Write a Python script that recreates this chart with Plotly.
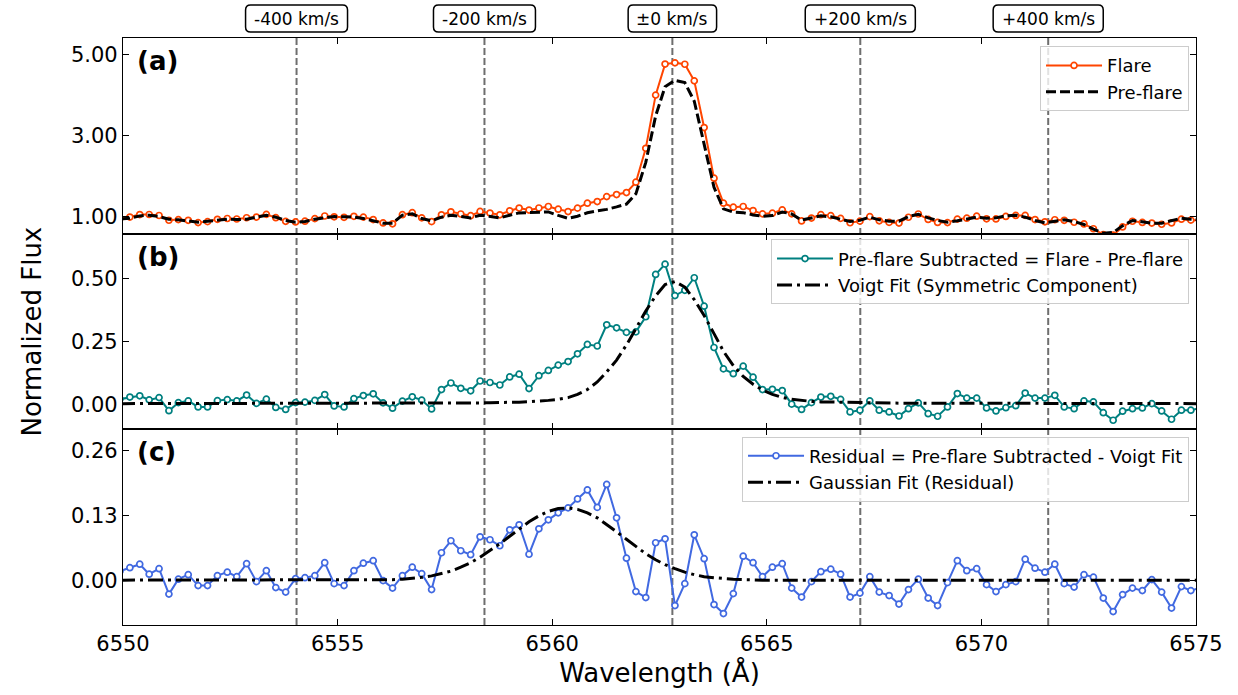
import plotly.graph_objects as go
from plotly.subplots import make_subplots

# ---------------- data ----------------
wavelength = [6549.93, 6550.16, 6550.39, 6550.61, 6550.84, 6551.07, 6551.29, 6551.52, 6551.75, 6551.97,
              6552.20, 6552.43, 6552.65, 6552.88, 6553.11, 6553.34, 6553.56, 6553.79, 6554.02, 6554.24,
              6554.47, 6554.70, 6554.92, 6555.15, 6555.38, 6555.60, 6555.83, 6556.06, 6556.28, 6556.51,
              6556.74, 6556.96, 6557.19, 6557.42, 6557.64, 6557.87, 6558.10, 6558.32, 6558.55, 6558.78,
              6559.01, 6559.23, 6559.46, 6559.69, 6559.91, 6560.14, 6560.37, 6560.59, 6560.82, 6561.05,
              6561.27, 6561.50, 6561.73, 6561.95, 6562.18, 6562.41, 6562.63, 6562.86, 6563.09, 6563.31,
              6563.54, 6563.77, 6563.99, 6564.22, 6564.45, 6564.68, 6564.90, 6565.13, 6565.36, 6565.58,
              6565.81, 6566.04, 6566.26, 6566.49, 6566.72, 6566.94, 6567.17, 6567.40, 6567.62, 6567.85,
              6568.08, 6568.30, 6568.53, 6568.76, 6568.98, 6569.21, 6569.44, 6569.66, 6569.89, 6570.12,
              6570.34, 6570.57, 6570.80, 6571.02, 6571.25, 6571.48, 6571.71, 6571.93, 6572.16, 6572.39,
              6572.61, 6572.84, 6573.07, 6573.29, 6573.52, 6573.75, 6573.97, 6574.20, 6574.43, 6574.66,
              6574.88, 6575.11]

flare = [0.950, 0.980, 1.042, 1.043, 1.019, 0.901, 0.917, 0.899, 0.843, 0.867,
         0.925, 0.945, 0.932, 0.963, 0.980, 1.046, 0.964, 0.874, 0.860, 0.878,
         0.942, 1.006, 0.986, 0.974, 0.999, 0.978, 0.919, 0.834, 0.813, 1.038,
         1.088, 0.960, 0.867, 1.035, 1.110, 1.056, 1.013, 1.118, 1.079, 1.036,
         1.134, 1.202, 1.152, 1.203, 1.240, 1.175, 1.116, 1.200, 1.323, 1.362,
         1.485, 1.535, 1.585, 1.840, 2.677, 3.990, 4.756, 4.786, 4.752, 4.342,
         3.189, 1.940, 1.323, 1.224, 1.240, 1.140, 1.059, 1.076, 1.158, 1.059,
         0.884, 0.956, 1.038, 1.016, 0.947, 0.839, 0.879, 0.990, 0.887, 0.848,
         0.832, 0.975, 1.055, 0.922, 0.847, 0.843, 0.929, 0.952, 1.001, 0.937,
         0.933, 0.996, 1.020, 1.021, 0.919, 0.862, 0.914, 0.900, 0.852, 0.810,
         0.691, 0.549, 0.536, 0.736, 0.877, 0.847, 0.831, 0.802, 0.835, 0.928,
         0.904, 0.895]

pre_flare = [0.930, 0.952, 1.009, 1.026, 0.993, 0.927, 0.911, 0.886, 0.854, 0.878,
             0.911, 0.927, 0.919, 0.927, 0.977, 1.026, 0.977, 0.895, 0.854, 0.870,
             0.927, 0.968, 0.993, 0.985, 0.977, 0.944, 0.878, 0.829, 0.829, 1.026,
             1.059, 0.944, 0.886, 0.977, 1.026, 0.993, 0.960, 1.026, 0.993, 0.960,
             1.026, 1.083, 1.090, 1.090, 1.106, 1.020, 0.947, 1.000, 1.086, 1.131,
             1.170, 1.232, 1.300, 1.553, 2.330, 3.475, 4.200, 4.355, 4.300, 3.840,
             2.800, 1.715, 1.183, 1.103, 1.089, 1.033, 1.001, 1.017, 1.104, 1.059,
             0.905, 0.950, 1.010, 0.985, 0.928, 0.870, 0.903, 0.977, 0.911, 0.879,
             0.879, 0.993, 1.050, 0.960, 0.895, 0.854, 0.887, 0.928, 0.977, 0.952,
             0.960, 1.010, 1.026, 0.977, 0.895, 0.838, 0.879, 0.911, 0.870, 0.797,
             0.682, 0.583, 0.600, 0.764, 0.895, 0.862, 0.829, 0.829, 0.895, 0.952,
             0.928, 0.910]

subtracted = [0.020, 0.028, 0.033, 0.017, 0.026, -0.026, 0.006, 0.013, -0.011, -0.011,
              0.014, 0.018, 0.013, 0.036, 0.003, 0.020, -0.013, -0.021, 0.006, 0.008,
              0.015, 0.038, -0.007, -0.011, 0.022, 0.034, 0.041, 0.005, -0.016, 0.012,
              0.029, 0.016, -0.019, 0.058, 0.084, 0.063, 0.053, 0.092, 0.086, 0.076,
              0.108, 0.119, 0.062, 0.113, 0.134, 0.155, 0.169, 0.200, 0.237, 0.231,
              0.315, 0.303, 0.285, 0.287, 0.347, 0.515, 0.556, 0.431, 0.452, 0.502,
              0.389, 0.225, 0.140, 0.121, 0.151, 0.107, 0.058, 0.059, 0.054, 0.000,
              -0.021, 0.006, 0.028, 0.031, 0.019, -0.031, -0.024, 0.013, -0.024, -0.031,
              -0.047, -0.018, 0.005, -0.038, -0.048, -0.011, 0.042, 0.024, 0.024, -0.015,
              -0.027, -0.014, -0.006, 0.044, 0.024, 0.024, 0.035, -0.011, -0.018, 0.013,
              0.009, -0.034, -0.064, -0.028, -0.018, -0.015, 0.002, -0.027, -0.060, -0.024,
              -0.024, -0.015]

voigt_fit = [0.002, 0.002, 0.002, 0.002, 0.002, 0.002, 0.002, 0.002, 0.002, 0.002,
             0.002, 0.002, 0.002, 0.002, 0.002, 0.002, 0.003, 0.003, 0.003, 0.003,
             0.003, 0.003, 0.003, 0.003, 0.003, 0.003, 0.003, 0.003, 0.003, 0.003,
             0.003, 0.003, 0.003, 0.003, 0.004, 0.004, 0.005, 0.005, 0.006, 0.006,
             0.007, 0.008, 0.010, 0.012, 0.015, 0.019, 0.026, 0.039, 0.058, 0.088,
             0.128, 0.175, 0.235, 0.300, 0.370, 0.430, 0.475, 0.487, 0.465, 0.415,
             0.352, 0.280, 0.210, 0.153, 0.110, 0.079, 0.056, 0.039, 0.027, 0.019,
             0.014, 0.011, 0.009, 0.008, 0.007, 0.006, 0.005, 0.005, 0.005, 0.005,
             0.004, 0.004, 0.004, 0.004, 0.004, 0.004, 0.004, 0.003, 0.003, 0.003,
             0.003, 0.003, 0.003, 0.003, 0.003, 0.003, 0.003, 0.002, 0.002, 0.002,
             0.002, 0.002, 0.002, 0.002, 0.002, 0.002, 0.002, 0.002, 0.002, 0.002,
             0.002, 0.002]

residual = [0.018, 0.025, 0.032, 0.012, 0.023, -0.028, 0.002, 0.011, -0.011, -0.011,
            0.009, 0.016, 0.007, 0.033, -0.003, 0.019, -0.015, -0.024, 0.003, 0.005,
            0.009, 0.035, -0.007, -0.011, 0.019, 0.034, 0.039, -0.001, -0.016, 0.009,
            0.026, 0.013, -0.019, 0.055, 0.079, 0.059, 0.051, 0.087, 0.081, 0.069,
            0.101, 0.111, 0.052, 0.103, 0.121, 0.135, 0.145, 0.163, 0.181, 0.146,
            0.192, 0.125, 0.044, -0.023, -0.035, 0.075, 0.083, -0.051, -0.007, 0.091,
            0.043, -0.049, -0.067, -0.027, 0.048, 0.035, 0.007, 0.026, 0.033, -0.016,
            -0.034, -0.003, 0.017, 0.022, 0.012, -0.034, -0.026, 0.007, -0.024, -0.031,
            -0.048, -0.019, 0.002, -0.036, -0.051, -0.005, 0.039, 0.019, 0.023, -0.009,
            -0.023, -0.009, -0.003, 0.042, 0.024, 0.016, 0.032, -0.007, -0.014, 0.011,
            0.006, -0.036, -0.063, -0.029, -0.016, -0.021, 0.001, -0.024, -0.056, -0.013,
            -0.021, -0.015]

gaussian_fit = [0.000, 0.000, 0.000, 0.000, 0.000, 0.000, 0.000, 0.000, 0.000, 0.000,
                0.000, 0.000, 0.000, 0.000, 0.000, 0.000, 0.000, 0.000, 0.000, 0.000,
                0.000, 0.000, 0.000, 0.000, 0.000, 0.000, 0.000, 0.001, 0.001, 0.002,
                0.0035, 0.0056, 0.0086, 0.0128, 0.018, 0.026, 0.035, 0.046, 0.059, 0.073,
                0.088, 0.103, 0.117, 0.129, 0.138, 0.1436, 0.145, 0.142, 0.135, 0.125,
                0.112, 0.097, 0.082, 0.067, 0.053, 0.041, 0.031, 0.023, 0.016, 0.011,
                0.007, 0.005, 0.003, 0.002, 0.001, 0.000, 0.000, 0.000, 0.000, 0.000,
                0.000, 0.000, 0.000, 0.000, 0.000, 0.000, 0.000, 0.000, 0.000, 0.000,
                0.000, 0.000, 0.000, 0.000, 0.000, 0.000, 0.000, 0.000, 0.000, 0.000,
                0.000, 0.000, 0.000, 0.000, 0.000, 0.000, 0.000, 0.000, 0.000, 0.000,
                0.000, 0.000, 0.000, 0.000, 0.000, 0.000, 0.000, 0.000, 0.000, 0.000,
                0.000, 0.000]

rest_wavelength = 6562.80
velocities_kms = [-400, -200, 0, 200, 400]
velocity_labels = ["-400 km/s", "-200 km/s", "\u00b10 km/s", "+200 km/s", "+400 km/s"]
x_ticks = [6550, 6555, 6560, 6565, 6570, 6575]
yticks_a = [1.0, 3.0, 5.0]
yticks_b = [0.0, 0.25, 0.5]
yticks_c = [0.0, 0.13, 0.26]
panel_labels = ["(a)", "(b)", "(c)"]

# ---------------- style ----------------
FONT = "DejaVu Sans"
C_FLARE = "#FF4500"
C_SUB = "#008080"
C_RES = "#4169E1"
C_VLINE = "#6e6e6e"
W, H = 1238, 695
ML, MR, MT, MB = 123, 42, 38, 68
XMIN, XMAX = 6550, 6575
PLOT_W = W - ML - MR
PLOT_H = H - MT - MB

fig = make_subplots(rows=3, cols=1, shared_xaxes=True, vertical_spacing=0)

def marker_trace(x, y, color, name, legend):
    return go.Scatter(x=x, y=y, mode="lines+markers", name=name, legend=legend,
                      line=dict(color=color, width=2),
                      marker=dict(symbol="circle", size=6, color="white",
                                  line=dict(color=color, width=1.7)))

fig.add_trace(marker_trace(wavelength, flare, C_FLARE, "Flare", "legend"), row=1, col=1)
fig.add_trace(go.Scatter(x=wavelength, y=pre_flare, mode="lines", name="Pre-flare", legend="legend",
                         line=dict(color="black", width=3, dash="10px,4px")), row=1, col=1)

fig.add_trace(marker_trace(wavelength, subtracted, C_SUB,
                           "Pre-flare Subtracted = Flare - Pre-flare", "legend2"), row=2, col=1)
fig.add_trace(go.Scatter(x=wavelength, y=voigt_fit, mode="lines", name="Voigt Fit (Symmetric Component)",
                         legend="legend2",
                         line=dict(color="black", width=3, dash="15px,5px,3px,5px")), row=2, col=1)

fig.add_trace(marker_trace(wavelength, residual, C_RES,
                           "Residual = Pre-flare Subtracted - Voigt Fit", "legend3"), row=3, col=1)
fig.add_trace(go.Scatter(x=wavelength, y=gaussian_fit, mode="lines", name="Gaussian Fit (Residual)",
                         legend="legend3",
                         line=dict(color="black", width=3, dash="15px,5px,3px,5px")), row=3, col=1)

# approximate DejaVu Sans advance widths (em) for sizing the rounded label boxes
CHAR_EM = {"-": 0.361, "+": 0.838, "\u00b1": 0.838, " ": 0.318, "k": 0.579, "m": 0.974,
           "/": 0.337, "s": 0.521}
LABEL_FONT = 17

def rounded_box_path(cx_paper, cy_paper, w_px, h_px, r_px):
    sx = 1.0 / PLOT_W
    sy = 1.0 / PLOT_H
    hw, hh = w_px / 2 * sx, h_px / 2 * sy
    rx, ry = r_px * sx, r_px * sy
    x0, x1 = cx_paper - hw, cx_paper + hw
    y0, y1 = cy_paper - hh, cy_paper + hh
    return (f"M {x0 + rx},{y0} L {x1 - rx},{y0} Q {x1},{y0} {x1},{y0 + ry} "
            f"L {x1},{y1 - ry} Q {x1},{y1} {x1 - rx},{y1} "
            f"L {x0 + rx},{y1} Q {x0},{y1} {x0},{y1 - ry} "
            f"L {x0},{y0 + ry} Q {x0},{y0} {x0 + rx},{y0} Z")

# velocity marker lines + labels
C_LIGHT = 299792.458
label_y_paper = 1 + (MT - 18.5) / PLOT_H
for v, lab in zip(velocities_kms, velocity_labels):
    xv = rest_wavelength * (1 + v / C_LIGHT)
    fig.add_shape(type="line", xref="x", yref="paper", x0=xv, x1=xv, y0=0, y1=1,
                  line=dict(color=C_VLINE, width=2, dash="7px,3px"), layer="below")
    text_w = sum(CHAR_EM.get(ch, 0.636) for ch in lab) * LABEL_FONT
    cx = (xv - XMIN) / (XMAX - XMIN)
    fig.add_shape(type="path", xref="paper", yref="paper",
                  path=rounded_box_path(cx, label_y_paper, text_w + 17, 27, 5),
                  line=dict(color="black", width=1.5), fillcolor="white", layer="above")
    fig.add_annotation(x=xv, xref="x", y=label_y_paper, yref="paper", text=lab, showarrow=False,
                       font=dict(family=FONT, size=LABEL_FONT, color="black"),
                       xanchor="center", yanchor="middle")

# panel labels
for i, lab in enumerate(panel_labels):
    ax = "" if i == 0 else str(i + 1)
    fig.add_annotation(x=0.011, xref=f"x{ax} domain", y=0.883, yref=f"y{ax} domain",
                       text=f"<b>{lab}</b>", showarrow=False, xanchor="left", yanchor="middle",
                       font=dict(family=FONT, size=26, color="black"))

axis_common = dict(showline=True, linecolor="black", linewidth=1.3, mirror="allticks",
                   ticks="inside", ticklen=6, tickwidth=1.3, tickcolor="black",
                   showgrid=False, zeroline=False,
                   tickfont=dict(family=FONT, size=21, color="black"))

for r in (1, 2, 3):
    fig.update_xaxes(range=[XMIN, XMAX], tickvals=x_ticks, row=r, col=1, **axis_common)
fig.update_xaxes(ticktext=[str(t) for t in x_ticks], showticklabels=True, row=3, col=1,
                 title=dict(text="Wavelength (\u00c5)", font=dict(family=FONT, size=26, color="black"),
                            standoff=8))

fig.update_yaxes(range=[0.57, 5.40], tickvals=yticks_a, tickformat=".2f", row=1, col=1, **axis_common)
fig.update_yaxes(range=[-0.10, 0.677], tickvals=yticks_b, tickformat=".2f", row=2, col=1, **axis_common)
fig.update_yaxes(range=[-0.09, 0.3026], tickvals=yticks_c, tickformat=".2f", row=3, col=1, **axis_common)

legend_common = dict(bgcolor="rgba(255,255,255,0.8)", bordercolor="#cccccc", borderwidth=1,
                     font=dict(family=FONT, size=18, color="black"), itemwidth=56,
                     xanchor="right", yanchor="top", x=0.9935, tracegroupgap=0)

fig.update_layout(
    width=W, height=H,
    margin=dict(l=ML, r=MR, t=MT, b=MB),
    plot_bgcolor="white", paper_bgcolor="white",
    font=dict(family=FONT, color="black"),
    legend=dict(y=0.986, **legend_common),
    legend2=dict(y=0.657, **legend_common),
    legend3=dict(y=0.321, **legend_common),
)

fig.add_annotation(text="Normalized Flux", xref="paper", yref="paper", x=(31 - ML) / PLOT_W, y=0.5,
                   textangle=-90, showarrow=False, xanchor="center", yanchor="middle",
                   font=dict(family=FONT, size=26, color="black"))

fig.write_html("out.html")
